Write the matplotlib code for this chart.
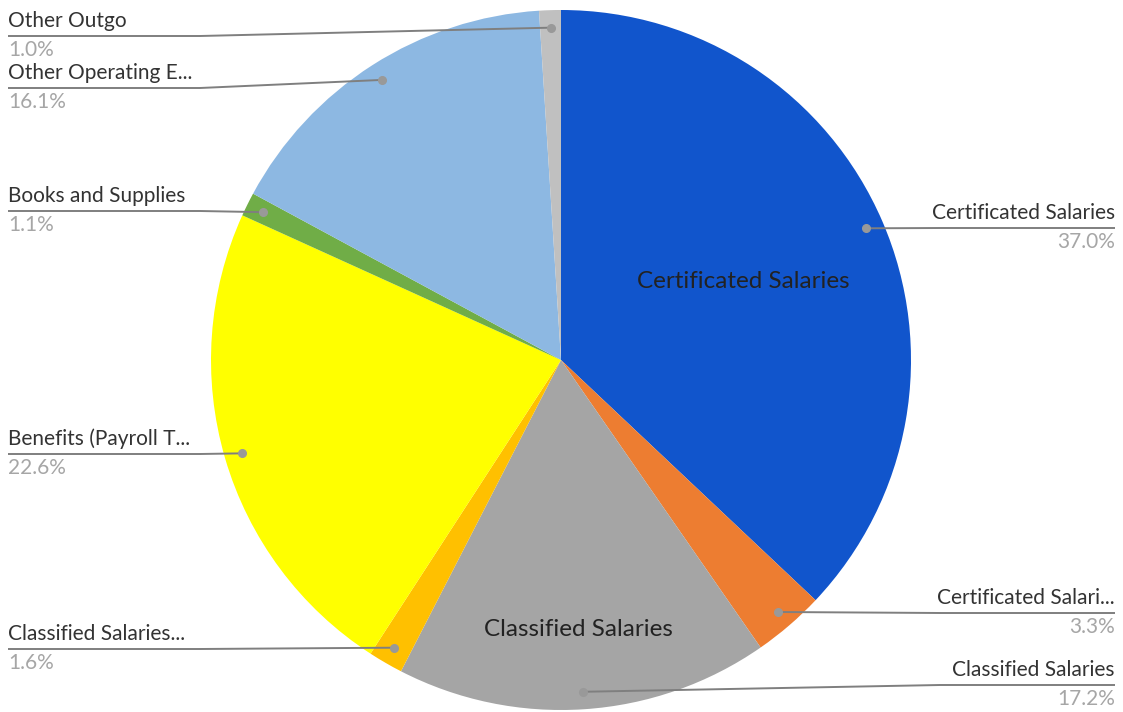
import numpy as np
import matplotlib.pyplot as plt

names = ["Certificated Salaries", "Certificated Salari...", "Classified Salaries",
         "Classified Salaries...", "Benefits (Payroll T...", "Books and Supplies",
         "Other Operating E...", "Other Outgo"]
values = [37.0, 3.3, 17.2, 1.6, 22.6, 1.1, 16.1, 1.0]
colors = ["#1155cc", "#ed7d31", "#a5a5a5", "#ffc000", "#ffff00", "#70ad47", "#8db8e2", "#c0c0c0"]
# label line y (pixels from top) and side
line_y = [228, 613, 685, 649, 454, 211, 88, 36]
side = ["r", "r", "r", "l", "l", "l", "l", "l"]
inside = {0: (743, 282), 2: (578, 630)}

W, H = 1123, 712
fig = plt.figure(figsize=(W / 100, H / 100), dpi=100)
ax = fig.add_axes([0, 0, 1, 1])
ax.set_xlim(0, W)
ax.set_ylim(0, H)
ax.set_aspect("equal")
ax.axis("off")

cx, cy, R = 561, H - 360, 350
ax.pie(values, colors=colors, startangle=90, counterclock=False,
       center=(cx, cy), radius=R, wedgeprops=dict(linewidth=0))
ax.set_xlim(0, W)
ax.set_ylim(0, H)

fam = ["Lato", "DejaVu Sans"]
tot = sum(values)
cum = 0
for i, v in enumerate(values):
    mid = np.deg2rad(90 - (cum + v / 2) / tot * 360)
    cum += v
    dx, dy = cx + 0.95 * R * np.cos(mid), cy + 0.95 * R * np.sin(mid)
    ly = H - line_y[i]
    if side[i] == "l":
        xs, ha, tx = [8, 200, dx], "left", 8
    else:
        xs, ha, tx = [1115, 940, dx], "right", 1115
    ys = [ly, ly, dy]
    ax.plot(xs, ys, color="#7f7f7f", lw=1.4, solid_capstyle="butt")
    ax.plot(dx, dy, "o", color="#999999", ms=5.5)
    ax.text(tx, ly + 5, names[i], ha=ha, va="bottom", fontsize=15, color="#333333", family=fam)
    ax.text(tx, ly - 4, f"{v:.1f}%", ha=ha, va="top", fontsize=15, color="#a6a6a6", family=fam)

for i, (x, y) in inside.items():
    ax.text(x, H - y, names[i], ha="center", va="center", fontsize=17.5, color="#222222", family=fam)

fig.savefig("out.png", dpi=100)
